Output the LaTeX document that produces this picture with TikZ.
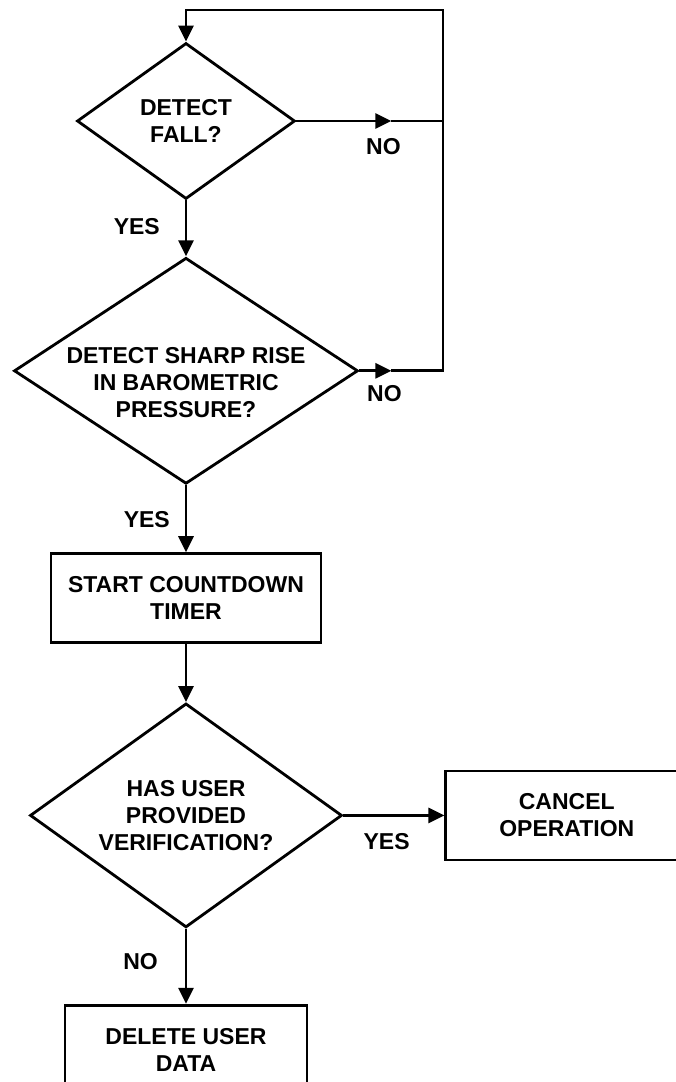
\documentclass[tikz,border=0pt]{standalone}
\usepackage{fontspec}
\setmainfont{Liberation Sans}
\usetikzlibrary{shapes.geometric, arrows.meta, positioning, calc}

\begin{document}
\begin{tikzpicture}[
    x=1pt, y=-1pt,
    every node/.style={font=\fontsize{23}{27}\selectfont\bfseries},
    decision/.style={diamond, draw, line width=2.8pt, inner sep=0pt},
    process/.style={rectangle, draw, line width=2.8pt, minimum width=270pt, minimum height=89pt, align=center, inner sep=0pt},
    every label/.style={align=center, inner sep=0pt},
    lbl/.style={inner sep=0pt},
    line/.style={line width=2.8pt},
    arrow/.style={line width=2.8pt, -{Triangle[length=16pt, width=15pt]}}
]
    \useasboundingbox (0,0) rectangle (676,1082);
    \clip (0,0) rectangle (676,1082);

    % main column
    \node[decision, minimum width=218pt, minimum height=156pt, label=center:{DETECT\\FALL?}] (fall) at (186,121) {};
    \node[decision, below=56pt of fall, minimum width=344pt, minimum height=226pt, label={[yshift=-12pt]center:{DETECT SHARP RISE\\IN BAROMETRIC\\PRESSURE?}}] (rise) {};
    \node[process, below=67pt of rise] (timer) {START COUNTDOWN\\TIMER};
    \node[decision, below=58pt of timer, minimum width=312pt, minimum height=224pt, label=center:{HAS USER\\PROVIDED\\VERIFICATION?}] (verify) {};
    \node[process, below=75pt of verify, minimum width=242pt, minimum height=90pt] (delete) {DELETE USER\\DATA};

    % side box
    \node[process, right=101pt of verify, minimum width=242pt] (cancel) {CANCEL\\OPERATION};

    % loop back
    \coordinate (loopR) at (443,10);
    \coordinate (noA) at ($(fall.east)+(95,0)$);
    \coordinate (noB) at ($(rise.east)+(32,0)$);

    % connectors
    \draw[arrow] (fall.south) -- (rise.north);
    \draw[arrow] (rise.south) -- (timer.north);
    \draw[arrow] (timer.south) -- (verify.north);
    \draw[arrow] (verify.east) -- (cancel.west);
    \draw[arrow] (verify.south) -- (delete.north);
    \draw[arrow] (fall.east) -- (noA);
    \draw[line] (noA) -- (noA -| loopR);
    \draw[arrow] (rise.east) -- (noB);
    \draw[arrow] (noB) -- (noB -| loopR) -- (loopR) -- (loopR -| fall.north) -- (fall.north);

    % branch labels
    \node[lbl, below left=18pt and 26pt of fall.south, anchor=north east] (yesA) {YES};
    \node[lbl, below=17pt of noA, xshift=-8pt] (noAlbl) {NO};
    \node[lbl, below=14pt of noB, xshift=-7pt] (noBlbl) {NO};
    \node[lbl, below left=26pt and 16pt of rise.south, anchor=north east] (yesB) {YES};
    \node[lbl, below right=18pt and 20pt of verify.east, anchor=north west] (yesC) {YES};
    \node[lbl, below left=24pt and 28pt of verify.south, anchor=north east] (noC) {NO};
\end{tikzpicture}
\end{document}
